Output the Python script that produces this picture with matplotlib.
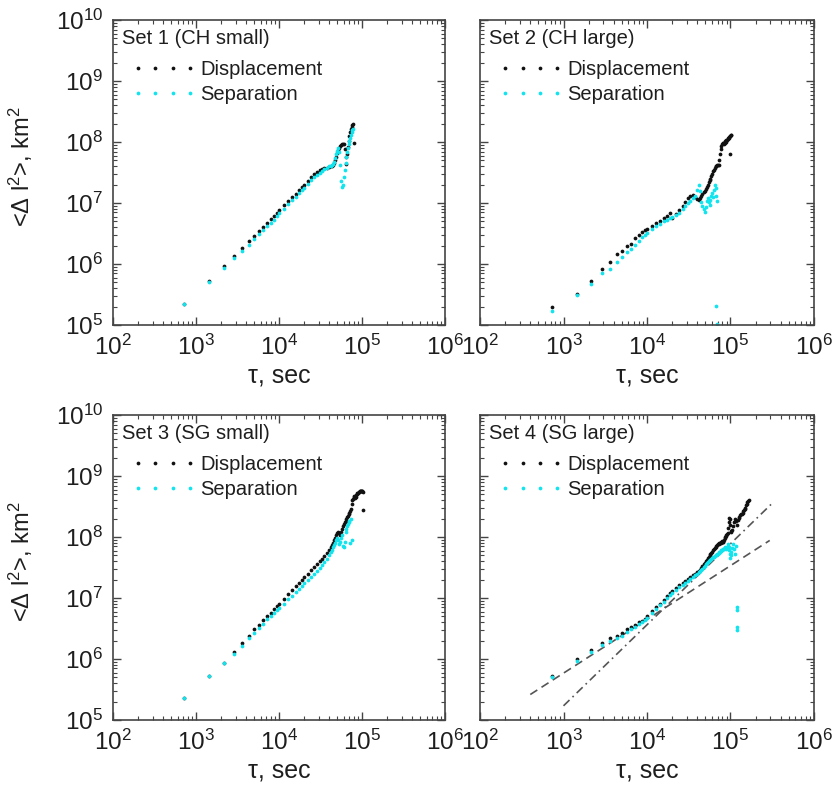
import numpy as np
import matplotlib
matplotlib.use("Agg")
import matplotlib.pyplot as plt
import matplotlib.ticker as mticker
import matplotlib.transforms as mtransforms

plt.rcParams["font.family"] = ["Liberation Sans", "DejaVu Sans"]
plt.rcParams["mathtext.default"] = "regular"

# sampling interval of the trajectories, s
DT = 720

BLACK = "#111111"
CYAN = "#12e4ee"
FRAME = "#444444"
TEXT = "#1e1e1e"

# lag index (multiples of DT) shared by all sets at short lags
steps_base = [1, 2, 3, 4, 5, 6, 7, 8, 9, 10, 11, 12, 13, 14,
              16, 18, 20, 22, 24, 26, 28,
              31, 34, 37, 40, 43, 46, 49, 52, 55]
steps_tail = [58, 60, 62, 64, 66, 68, 70, 72, 74, 76, 78, 80, 82, 84, 86, 88,
              90, 92, 94, 96, 98, 100, 102, 104, 106, 108, 110, 112, 114, 116,
              118, 120, 122, 124, 126, 128, 130, 132, 134, 136, 138, 140, 142]
steps_long = [146, 150, 154, 158, 162, 166, 170, 174, 178, 182, 186, 190,
              194, 198, 202, 206, 210, 214, 218, 222, 226, 230]

# ---- Set 1 (CH small): log10 <dl^2> in km^2
steps1 = steps_base + steps_tail[:26] + [110]
disp1_log = [5.34, 5.72, 5.96, 6.13, 6.26, 6.37, 6.46, 6.54, 6.61, 6.68, 6.74, 6.79, 6.84, 6.88,
             6.96, 7.03, 7.10, 7.15, 7.21, 7.26, 7.30,
             7.36, 7.42, 7.47, 7.51, 7.54, 7.56, 7.57, 7.58, 7.59,
             7.60, 7.61, 7.62, 7.65, 7.70, 7.76, 7.82, 7.87, 7.91, 7.93, 7.95, 7.96, 7.97,
             7.96, 7.88, 7.76, 7.64, 7.80, 7.92, 8.02, 8.10, 8.16, 8.21, 8.25, 8.28, 8.30,
             7.99]
sep1_log = [5.34, 5.71, 5.94, 6.10, 6.22, 6.32, 6.41, 6.49, 6.56, 6.62, 6.68, 6.73, 6.78, 6.83,
            6.91, 6.98, 7.05, 7.10, 7.16, 7.21, 7.25,
            7.31, 7.37, 7.42, 7.46, 7.50, 7.53, 7.56, 7.58, 7.60,
            7.61, 7.62, 7.64, 7.68, 7.74, 7.80, 7.86, 7.90, 7.84, 7.62, 7.36, 7.26, 7.30,
            7.42, 7.55, 7.66, 7.75, 7.83, 7.90, 7.96, 8.02, 8.07, 8.12, 8.16, 8.20, 8.22,
            None]

# ---- Set 2 (CH large)
steps2 = steps_base + steps_tail + [137, 93, 95]
disp2_log = [5.30, 5.51, 5.72, 5.92, 6.03, 6.16, 6.21, 6.30, 6.33, 6.42, 6.48, 6.53, 6.55, 6.58,
             6.62, 6.67, 6.71, 6.75, 6.79, 6.83, 6.76,
             6.82, 6.88, 6.95, 7.02, 7.08, 7.12, 7.14, 7.10, 7.06,
             7.05, 7.08, 7.12, 7.15, 7.18, 7.20, 7.23, 7.26, 7.30, 7.34,
             7.37, 7.40, 7.44, 7.48, 7.52, 7.55, 7.58, 7.60, 7.61, 7.62,
             7.62, 7.63, 7.70, 7.80, 7.88, 7.94, 7.97, 7.98, 7.99, 7.96,
             7.98, 8.02, 8.04, 8.00, 8.03, 8.06, 8.05, 8.07, 8.09, 8.10,
             8.10, 8.11, 8.11,
             7.81, None, None]
sep2_log = [5.23, 5.50, 5.68, 5.85, 5.92, 6.04, 6.12, 6.20, 6.25, 6.31, 6.38, 6.44, 6.48, 6.51,
            6.58, 6.62, 6.66, 6.70, 6.73, 6.76, 6.77,
            6.80, 6.84, 6.90, 6.95, 7.00, 7.04, 7.08, 7.12, 7.22,
            7.30, 7.20, 7.02, 6.95, 6.90, 6.86, 6.93, 7.03, 7.08, 7.02,
            6.96, 7.05, 7.12, 7.16, 7.10, 7.22, 7.30, 7.24, 7.12, 7.04] + [None] * 23 + \
           [None, 5.31, 5.02]

# ---- Set 3 (SG small)
steps3 = steps_base + steps_tail + [144]
disp3_log = [5.36, 5.72, 5.94, 6.12, 6.26, 6.38, 6.49, 6.56, 6.64, 6.70, 6.76, 6.82, 6.87, 6.91,
             6.99, 7.07, 7.13, 7.19, 7.24, 7.29, 7.34,
             7.40, 7.46, 7.51, 7.56, 7.60, 7.64, 7.69, 7.74, 7.79,
             7.84, 7.87, 7.91, 7.95, 7.99, 8.03, 8.06, 8.08, 8.06, 8.04,
             8.08, 8.13, 8.18, 8.22, 8.25, 8.27, 8.30, 8.33, 8.35, 8.37,
             8.39, 8.42, 8.46, 8.55, 8.60, 8.63, 8.66, 8.68, 8.64, 8.66,
             8.69, 8.70, 8.72, 8.73, 8.74, 8.74, 8.75, 8.75, 8.76, 8.76,
             8.75, 8.75, 8.74,
             8.44]
sep3_log = [5.36, 5.72, 5.93, 6.09, 6.21, 6.34, 6.43, 6.51, 6.58, 6.65, 6.70, 6.75, 6.80, 6.84,
            6.91, 6.98, 7.04, 7.10, 7.15, 7.19, 7.24,
            7.29, 7.34, 7.39, 7.44, 7.49, 7.54, 7.59, 7.64, 7.70,
            7.75, 7.79, 7.83, 7.87, 7.91, 7.95, 7.99, 7.95, 7.88, 7.92,
            7.98, 8.03, 7.86, 7.84, 7.92, 8.08, 8.14, 8.18, 8.22, 8.25,
            8.27, 7.90, 8.30, 7.95] + [None] * 19 + [None]

# ---- Set 4 (SG large)
steps4 = steps_base + steps_tail + steps_long + [164, 165, 166, 167]
disp4_log = [5.72, 6.00, 6.15, 6.27, 6.35, 6.38, 6.43, 6.49, 6.53, 6.56, 6.60, 6.63, 6.66, 6.70,
             6.78, 6.85, 6.91, 6.97, 7.03, 7.08, 7.12,
             7.17, 7.21, 7.25, 7.28, 7.31, 7.34, 7.37, 7.40, 7.42,
             7.44, 7.46, 7.49, 7.52, 7.55, 7.58, 7.60, 7.63, 7.66, 7.68,
             7.70, 7.72, 7.74, 7.76, 7.78, 7.80, 7.82, 7.84, 7.86, 7.87,
             7.88, 7.89, 7.90, 7.90, 7.91, 7.92, 7.93, 7.92, 7.92, 7.95,
             7.98, 8.00, 8.01, 8.03, 8.05, 8.06, 8.15, 8.25, 8.32, 8.30,
             8.20, 8.10, 8.08,
             8.12, 8.18, 8.24, 8.30, 8.26, 8.20, 8.28, 8.32, 8.33, 8.36, 8.38,
             8.38, 8.40, 8.42, 8.44, 8.46, 8.48, 8.52, 8.55, 8.57, 8.59, 8.61,
             None, None, None, None]
sep4_log = [5.70, 5.97, 6.11, 6.23, 6.30, 6.34, 6.38, 6.45, 6.49, 6.53, 6.57, 6.60, 6.64, 6.68,
            6.75, 6.82, 6.88, 6.94, 7.00, 7.05, 7.09,
            7.14, 7.18, 7.22, 7.25, 7.28, 7.31, 7.34, 7.37, 7.40,
            7.42, 7.44, 7.46, 7.48, 7.51, 7.53, 7.55, 7.57, 7.59, 7.61,
            7.62, 7.63, 7.64, 7.66, 7.67, 7.68, 7.69, 7.70, 7.71, 7.72,
            7.73, 7.74, 7.75, 7.76, 7.77, 7.78, 7.79, 7.80, 7.80, 7.81,
            7.82, 7.83, 7.82, 7.81, 7.84, 7.86, 7.88, 7.84, 7.78, 7.72,
            7.66, 7.70, 7.76,
            7.82, 7.88, 7.80, 7.72, 7.85] + [None] * 17 + [6.86, 6.80, 6.53, 6.48]

# reference power laws drawn in Set 4
fit_tau_flat = [400, 295000]
fit_flat = [2.62e5, 8.8e7]
fit_tau_steep = [1000, 310000]
fit_steep = [1.71e5, 3.49e8]

titles = ["Set 1 (CH small)", "Set 2 (CH large)", "Set 3 (SG small)", "Set 4 (SG large)"]


def draw_panel(ax, steps, disp_log, sep_log, title, left, bottom):
    tau = DT * np.array(steps, dtype=float)
    disp = 10 ** np.array(disp_log, dtype=float)
    sep = 10 ** np.array(sep_log, dtype=float)

    ax.plot(tau, disp, ls="none", marker="o", ms=2.7, mew=0, color=BLACK,
            label="Displacement")
    ax.plot(tau, sep, ls="none", marker="o", ms=2.7, mew=0, color=CYAN,
            label="Separation")

    ax.set_xscale("log")
    ax.set_yscale("log")
    ax.set_xlim(1e2, 1e6)
    ax.set_ylim(1e5, 1e10)
    for axis in (ax.xaxis, ax.yaxis):
        axis.set_major_locator(mticker.LogLocator(base=10, numticks=12))
        axis.set_minor_locator(mticker.LogLocator(base=10, subs=np.arange(2, 10),
                                                  numticks=60))
        axis.set_minor_formatter(mticker.NullFormatter())

    for sp in ax.spines.values():
        sp.set_color(FRAME)
        sp.set_linewidth(1.2)
    ax.tick_params(which="both", direction="in", top=True, right=True,
                   colors=FRAME, labelcolor=TEXT, labelsize=17.5)
    ax.tick_params(which="major", length=6, width=1.0, pad=7)
    ax.tick_params(which="minor", length=3, width=0.8)
    if not left:
        ax.tick_params(labelleft=False)

    # keep the end labels of neighbouring panels apart
    fig = ax.figure
    shift = -4 if left else 4
    idx = -1 if left else 0
    fig.canvas.draw()
    labels = [lb for lb in ax.get_xticklabels() if lb.get_text()]
    off = mtransforms.ScaledTranslation(shift / 100, 0, fig.dpi_scale_trans)
    labels[idx].set_transform(labels[idx].get_transform() + off)

    ax.set_xlabel("τ, sec", fontsize=18, color=TEXT)
    ax.xaxis.set_label_coords(0.5, -0.125)
    if left:
        ax.set_ylabel("<Δ l$^2$>, km$^2$", fontsize=17, color=TEXT)
        ax.yaxis.set_label_coords(-0.235, 0.52)

    ax.text(0.027, 0.941, title, transform=ax.transAxes, fontsize=14.5,
            color=TEXT, ha="left", va="center")
    leg = ax.legend(loc="upper left", bbox_to_anchor=(0.057, 0.868),
                    frameon=False, fontsize=14.5, numpoints=4,
                    handlelength=3.2, handletextpad=0.2, labelspacing=0.3,
                    borderpad=0, borderaxespad=0)
    for t in leg.get_texts():
        t.set_color(TEXT)


fig = plt.figure(figsize=(8.37, 7.87), dpi=100)
ax1 = fig.add_axes([0.1350, 0.5870, 0.3967, 0.3875])
ax2 = fig.add_axes([0.5735, 0.5870, 0.3990, 0.3875])
ax3 = fig.add_axes([0.1350, 0.0851, 0.3967, 0.3875])
ax4 = fig.add_axes([0.5735, 0.0851, 0.3990, 0.3875])

draw_panel(ax1, steps1, disp1_log, sep1_log, titles[0], True, False)
draw_panel(ax2, steps2, disp2_log, sep2_log, titles[1], False, False)
draw_panel(ax3, steps3, disp3_log, sep3_log, titles[2], True, True)
draw_panel(ax4, steps4, disp4_log, sep4_log, titles[3], False, True)

ax4.plot(fit_tau_flat, fit_flat, ls=(0, (5, 3)), color="#555555", lw=1.2, zorder=1)
ax4.plot(fit_tau_steep, fit_steep, ls=(0, (5, 2.5, 1, 2.5)), color="#555555", lw=1.2, zorder=1)

fig.savefig("out.png", dpi=100)
